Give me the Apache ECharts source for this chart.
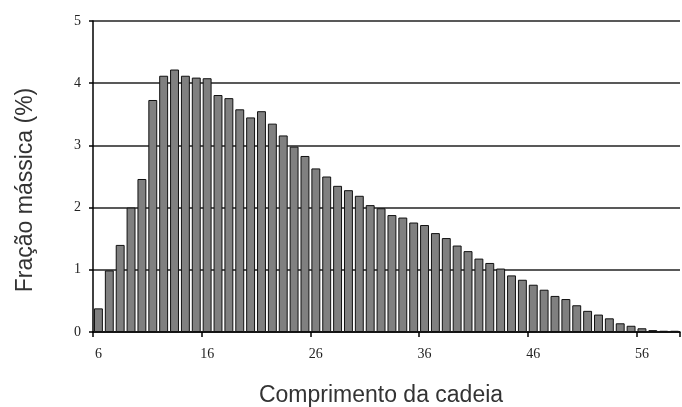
<!DOCTYPE html>
<html>
<head>
<meta charset="utf-8">
<script src="https://cdn.jsdelivr.net/npm/echarts@6/dist/echarts.min.js"></script>
<style>html,body{margin:0;padding:0;background:#fff}#c{width:682px;height:407px}</style>
</head>
<body>
<div id="c"></div>
<script>
var categories = [];
for (var k = 6; k <= 59; k++) categories.push(String(k));
var fracao = [
  0.38, 0.99, 1.40, 2.00, 2.46, 3.73, 4.12, 4.22, 4.12, 4.09,
  4.08, 3.81, 3.76, 3.58, 3.45, 3.55, 3.35, 3.16, 2.98, 2.83,
  2.63, 2.50, 2.35, 2.28, 2.19, 2.04, 1.99, 1.88, 1.84, 1.76,
  1.72, 1.59, 1.51, 1.39, 1.30, 1.18, 1.11, 1.02, 0.91, 0.84,
  0.76, 0.68, 0.58, 0.53, 0.43, 0.34, 0.28, 0.22, 0.14, 0.10,
  0.06, 0.03, 0.02, 0.02
];
var yMin = 0, yMax = 5, yStep = 1;
var xTitle = 'Comprimento da cadeia';
var yTitle = 'Fração mássica (%)';

var chart = echarts.init(document.getElementById('c'), null, {renderer: 'canvas'});
chart.setOption({
  animation: false,
  backgroundColor: '#ffffff',
  grid: {left: 93, right: 2, top: 21, bottom: 75},
  graphic: [
    {
      type: 'text',
      x: 381, y: 396,
      style: {text: xTitle, font: '23px "Liberation Sans"', fill: '#333', textAlign: 'center', textVerticalAlign: 'middle'}
    },
    {
      type: 'text',
      x: 26, y: 190, rotation: Math.PI / 2,
      style: {text: yTitle, font: '23px "Liberation Sans"', fill: '#333', textAlign: 'center', textVerticalAlign: 'middle'}
    }
  ],
  xAxis: {
    type: 'category',
    data: categories,
    boundaryGap: true,
    axisLine: {lineStyle: {color: '#000', width: 1.5}},
    axisTick: {show: true, interval: 9, length: 5, lineStyle: {color: '#000', width: 1.5}},
    axisLabel: {interval: 9, margin: 15, fontFamily: 'Liberation Serif', fontSize: 14, color: '#222'},
    splitLine: {show: false}
  },
  yAxis: {
    type: 'value',
    min: yMin, max: yMax, interval: yStep,
    axisLine: {show: true, lineStyle: {color: '#000', width: 1.5}},
    axisTick: {show: true, length: 4, lineStyle: {color: '#000', width: 1.5}},
    axisLabel: {margin: 12, fontFamily: 'Liberation Serif', fontSize: 14, color: '#222'},
    splitLine: {show: true, lineStyle: {color: '#222', width: 1.5}}
  },
  series: [{
    type: 'bar',
    data: fracao,
    barCategoryGap: '18%',
    itemStyle: {color: '#808080', borderColor: '#111', borderWidth: 1}
  }]
});
</script>
</body>
</html>
